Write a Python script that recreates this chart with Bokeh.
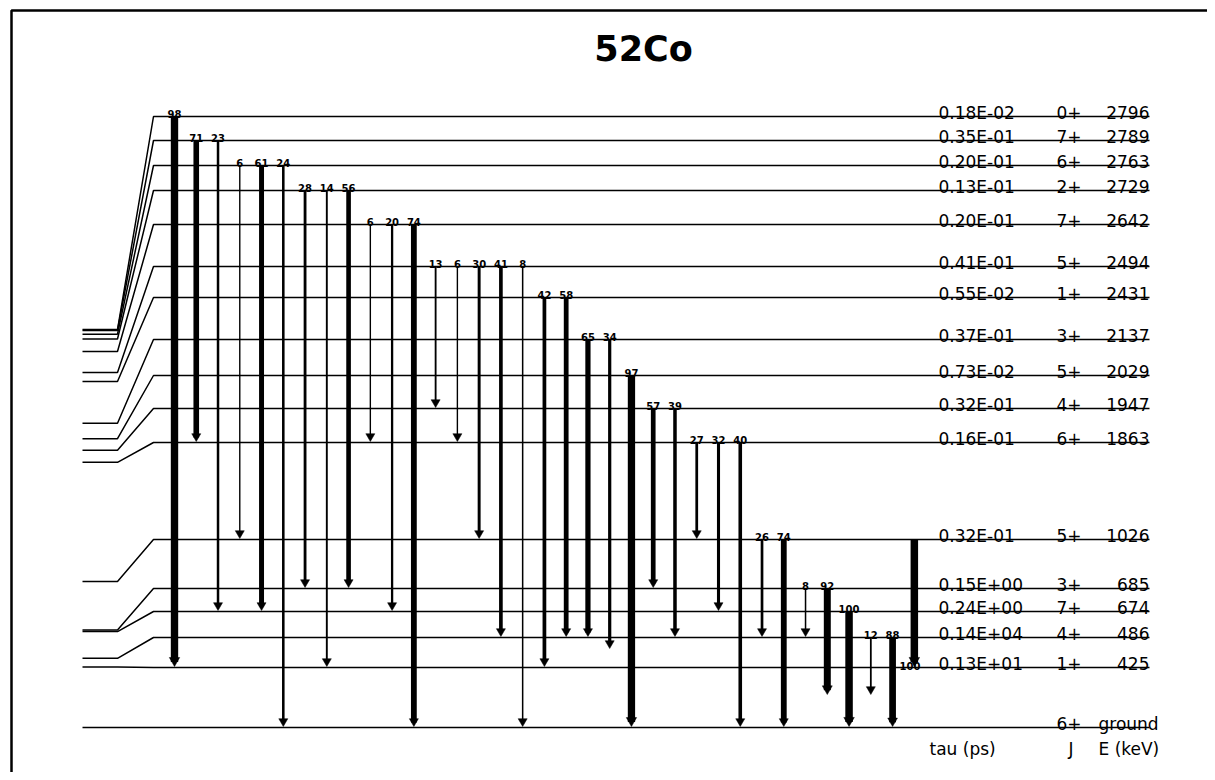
from bokeh.plotting import figure
from bokeh.models import Range1d, ColumnDataSource
from bokeh.core.properties import value
from bokeh.embed import file_html
from bokeh.resources import INLINE

# ---------------- data ----------------
title = "52Co"
level_energy = [2796, 2789, 2763, 2729, 2642, 2494, 2431, 2137, 2029, 1947, 1863,
                1026, 685, 674, 486, 425, 0]
level_spin = ["0+", "7+", "6+", "2+", "7+", "5+", "1+", "3+", "5+", "4+", "6+",
              "5+", "3+", "7+", "4+", "1+", "6+"]
level_tau = ["0.18E-02", "0.35E-01", "0.20E-01", "0.13E-01", "0.20E-01", "0.41E-01",
             "0.55E-02", "0.37E-01", "0.73E-02", "0.32E-01", "0.16E-01", "0.32E-01",
             "0.15E+00", "0.24E+00", "0.14E+04", "0.13E+01", ""]
level_energy_label = ["2796", "2789", "2763", "2729", "2642", "2494", "2431", "2137",
                      "2029", "1947", "1863", "1026", "685", "674", "486", "425", "ground"]

trans_from_keV = [2796, 2789, 2789, 2763, 2763, 2763, 2729, 2729, 2729, 2642, 2642, 2642,
                  2494, 2494, 2494, 2494, 2494, 2431, 2431, 2137, 2137, 2029, 1947, 1947,
                  1863, 1863, 1863, 1026, 1026, 685, 685, 674, 486, 486, 1026]
trans_to_keV = [425, 1863, 674, 1026, 674, 0, 685, 425, 685, 1863, 674, 0,
                1947, 1863, 1026, 486, 0, 425, 486, 486, None, 0, 685, 486,
                1026, 674, 0, 486, 0, 486, None, 0, None, 0, 425]
trans_intensity = [98, 71, 23, 6, 61, 24, 28, 14, 56, 6, 20, 74,
                   13, 6, 30, 41, 8, 42, 58, 65, 34, 97, 57, 39,
                   27, 32, 40, 26, 74, 8, 92, 100, 12, 88, 100]

header_labels = ["tau (ps)", "J", "E (keV)"]

# ---------------- layout ----------------
W, H = 1207, 772
GROUND_Y = 727
KEV_PX = 398.0 / 2796.0           # left (true-energy) scale
STUB_X0, STUB_X1, LINE_X0, LINE_X1 = 82, 117, 153, 1149
row_y = [116, 140, 165, 190, 224, 266, 297, 339, 375, 408, 442,
         539, 588, 611, 637, 667, 727]   # spread display positions
open_end_y = {20: 649, 30: 695, 32: 695}  # destinations not drawn
label_at_end = {34}
COL_X0, COL_DX = 174, 21.76
TAU_X, SPIN_X, E_X = 938, 1056, 1149
FRAME_X, FRAME_Y = 11, 10

p = figure(width=W, height=H, output_backend="svg", toolbar_location=None,
           x_range=Range1d(0, W), y_range=Range1d(H, 0),
           min_border=0, outline_line_color=None)
p.axis.visible = False
p.grid.visible = False
p.background_fill_color = "white"
p.border_fill_color = "white"

# page frame (top/left edges visible)
p.line(x=[FRAME_X, FRAME_X, W], y=[H, FRAME_Y, FRAME_Y], line_color="black", line_width=2.5)

# levels
xs, ys = [], []
for e, ry in zip(level_energy, row_y):
    ly = GROUND_Y - e * KEV_PX
    xs.append([STUB_X0, STUB_X1, LINE_X0, LINE_X1])
    ys.append([ly, ly, ry, ry])
p.multi_line(xs, ys, line_color="black", line_width=1.5)

# level texts
lab_y = [y - 4 for y in row_y]
src_lab = ColumnDataSource(dict(tx=[TAU_X] * len(row_y), sx=[SPIN_X] * len(row_y),
                                y=lab_y, tau=level_tau, spin=level_spin))
p.text(x="tx", y="y", text="tau", source=src_lab, text_font=value("DejaVu Sans"),
       text_font_size="17px", text_baseline="alphabetic", text_align="left", text_color="black")
p.text(x="sx", y="y", text="spin", source=src_lab, text_font=value("DejaVu Sans"),
       text_font_size="17px", text_baseline="alphabetic", text_align="left", text_color="black")
num_idx = [i for i, t in enumerate(level_energy_label) if t != "ground"]
gnd_idx = [i for i, t in enumerate(level_energy_label) if t == "ground"]
p.text(x=[E_X] * len(num_idx), y=[lab_y[i] for i in num_idx],
       text=[level_energy_label[i] for i in num_idx], text_font=value("DejaVu Sans"),
       text_font_size="17px", text_baseline="alphabetic", text_align="right", text_color="black")
p.text(x=[1098] * len(gnd_idx), y=[lab_y[i] for i in gnd_idx],
       text=[level_energy_label[i] for i in gnd_idx], text_font=value("DejaVu Sans"),
       text_font_size="17px", text_baseline="alphabetic", text_align="left", text_color="black")

# column headers under ground
p.text(x=[929, 1068, 1098], y=[GROUND_Y + 21] * 3, text=header_labels,
       text_font=value("DejaVu Sans"), text_font_size="17px",
       text_baseline="alphabetic", text_align="left", text_color="black")

# transitions
ypos = {e: y for e, y in zip(level_energy, row_y)}
sx, sy0, sy1, sw, hx, hy, hs = [], [], [], [], [], [], []
lx, ly, lt, lx2, ly2, lt2 = [], [], [], [], [], []
for i, (ef, et, inten) in enumerate(zip(trans_from_keV, trans_to_keV, trans_intensity)):
    x = COL_X0 + i * COL_DX
    y0 = ypos[ef]
    y1 = ypos[et] if et is not None else open_end_y[i]
    tip = y1 - 1
    w = 1.0 + 0.065 * inten
    s = max(9.0, w + 3.0)
    h = 0.866 * s
    sx.append(x); sy0.append(y0); sy1.append(tip - h * 0.5); sw.append(w)
    hx.append(x); hy.append(tip - 0.577 * s); hs.append(s)
    if i in label_at_end:
        lx2.append(x + 6); ly2.append(tip - 1); lt2.append(str(inten))
    else:
        lx.append(x); ly.append(y0 - 2.5); lt.append(str(inten))

p.text(x=lx2, y=ly2, text=lt2, text_font=value("DejaVu Sans"), text_font_style="bold",
       text_font_size="10px", text_baseline="alphabetic", text_align="right", text_color="black")
src_t = ColumnDataSource(dict(x=sx, y0=sy0, y1=sy1, w=sw))
p.segment(x0="x", y0="y0", x1="x", y1="y1", line_width="w", line_color="black",
          line_cap="butt", source=src_t)
p.scatter(x=hx, y=hy, size=hs, marker="inverted_triangle", fill_color="black",
          line_color="black", line_width=0.5)
p.text(x=lx, y=ly, text=lt, text_font=value("DejaVu Sans"), text_font_style="bold",
       text_font_size="10px", text_baseline="alphabetic", text_align="center", text_color="black")

# title
p.text(x=[643], y=[48], text=[title], text_font=value("DejaVu Sans"), text_font_style="bold",
       text_font_size="35px", text_baseline="alphabetic", text_align="center", text_color="black")

open("out.html", "w").write(file_html(p, INLINE))
